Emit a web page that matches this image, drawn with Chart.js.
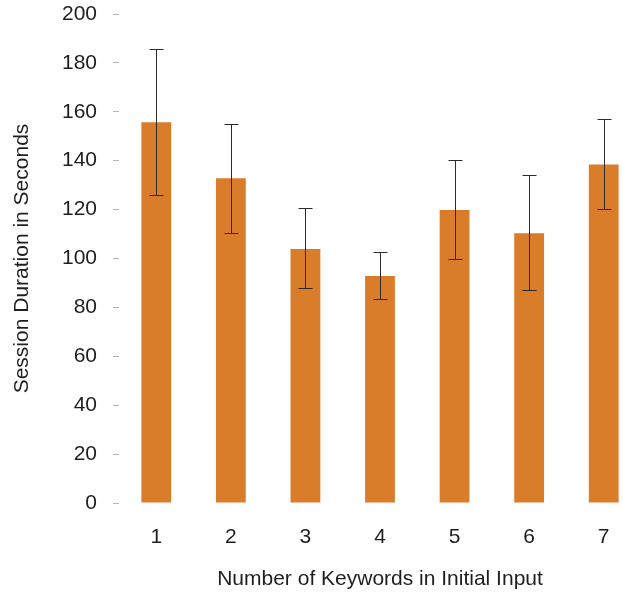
<!DOCTYPE html>
<html lang="en">
<head>
    <meta charset="UTF-8">
    <title>Session Duration</title>
    <script src="https://cdn.jsdelivr.net/npm/chart.js"></script>
    <style>
        html, body { margin: 0; padding: 0; background: #fff; overflow: hidden; }
        .box { width: 641px; height: 594px; }
    </style>
</head>
<body>
    <div class="box">
        <canvas id="myChart" width="641" height="594"></canvas>
    </div>

<script>
    // dados
    const categorias = ['1', '2', '3', '4', '5', '6', '7'];
    const mediaSegundos = [155.7, 132.8, 103.9, 92.8, 119.8, 110.3, 138.4];
    const erroSuperior = [185.5, 154.9, 120.8, 102.7, 140.3, 134.0, 157.0];
    const erroInferior = [126.1, 110.6, 87.8, 83.6, 99.9, 87.1, 120.1];
    const ticksY = [0, 20, 40, 60, 80, 100, 120, 140, 160, 180, 200];

    const fonte = "'Liberation Sans', Arial, sans-serif";

    // desenha as barras de erro usando a escala do próprio gráfico
    const barrasErro = {
        id: 'barrasErro',
        afterDatasetsDraw(chart) {
            const ctx = chart.ctx;
            const y = chart.scales.y;
            const meta = chart.getDatasetMeta(0);
            ctx.save();
            ctx.strokeStyle = '#2b2b2b';
            ctx.lineWidth = 1;
            meta.data.forEach(function (bar, i) {
                const x = Math.round(bar.x) + 0.5;
                const yTop = Math.round(y.getPixelForValue(erroSuperior[i])) + 0.5;
                const yBot = Math.round(y.getPixelForValue(erroInferior[i])) + 0.5;
                ctx.beginPath();
                ctx.moveTo(x, yTop);
                ctx.lineTo(x, yBot);
                ctx.moveTo(x - 7, yTop);
                ctx.lineTo(x + 7, yTop);
                ctx.moveTo(x - 7, yBot);
                ctx.lineTo(x + 7, yBot);
                ctx.stroke();
            });
            ctx.restore();
        }
    };

    const config = {
        type: 'bar',
        data: {
            labels: categorias,
            datasets: [{
                data: mediaSegundos,
                backgroundColor: '#DA7D2B',
                borderWidth: 0,
                categoryPercentage: 1,
                barPercentage: 0.4
            }]
        },
        options: {
            responsive: false,
            animation: false,
            layout: { padding: { top: 14, left: 0, right: 0, bottom: 0 } },
            plugins: {
                legend: { display: false },
                tooltip: { enabled: false }
            },
            scales: {
                y: {
                    min: 0,
                    max: 200,
                    afterBuildTicks(scale) {
                        scale.ticks = ticksY.map(v => ({ value: v }));
                    },
                    afterFit(scale) {
                        scale.width = 119;
                        scale.paddingTop = 0;
                        scale.paddingBottom = 0;
                    },
                    border: { display: false },
                    grid: {
                        drawOnChartArea: false,
                        drawTicks: true,
                        tickLength: 6,
                        color: '#b5b5b5'
                    },
                    ticks: {
                        padding: 16,
                        color: '#1e1e1e',
                        font: { family: fonte, size: 21 }
                    },
                    title: {
                        display: true,
                        text: 'Session Duration in Seconds',
                        color: '#1e1e1e',
                        font: { family: fonte, size: 21 },
                        padding: { top: 10, bottom: 0 }
                    }
                },
                x: {
                    afterFit(scale) { scale.height = 91; },
                    border: { display: false },
                    grid: { display: false },
                    ticks: {
                        padding: 14,
                        color: '#1e1e1e',
                        font: { family: fonte, size: 21 }
                    },
                    title: {
                        display: true,
                        text: 'Number of Keywords in Initial Input',
                        color: '#1e1e1e',
                        font: { family: fonte, size: 21 },
                        padding: { top: 10, bottom: 2 }
                    }
                }
            }
        },
        plugins: [barrasErro]
    };

    let myChart = new Chart(document.getElementById('myChart'), config);
</script>
</body>
</html>
